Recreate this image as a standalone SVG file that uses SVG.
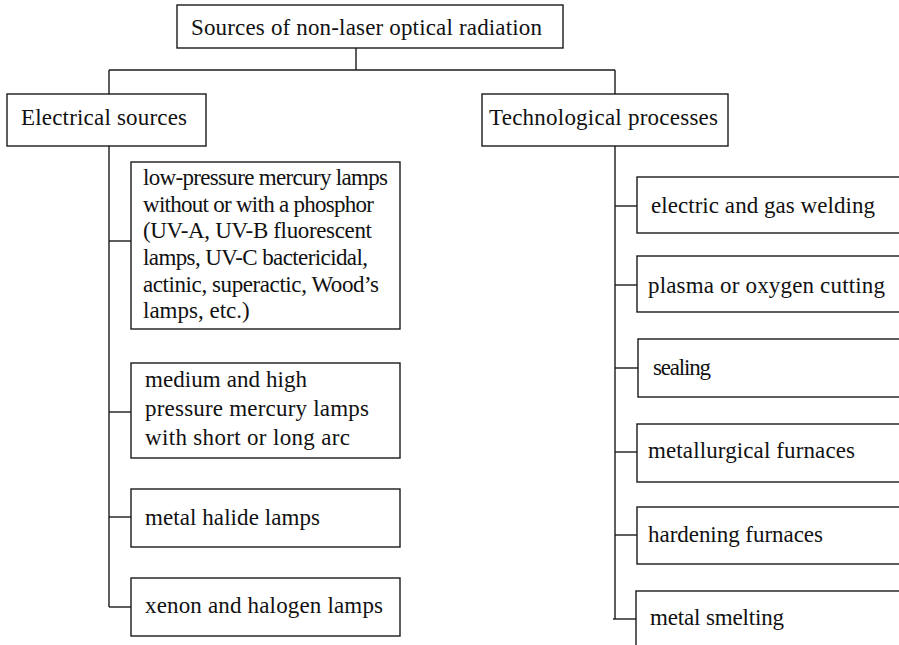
<svg xmlns="http://www.w3.org/2000/svg" width="899" height="645" viewBox="0 0 899 645">
<style>
rect{fill:#fff;stroke:#1a1a1a;stroke-width:1.4}
text{font-family:"Liberation Serif","Times New Roman",serif;font-size:23px;fill:#111}
#connectors line{stroke:#1a1a1a;stroke-width:1.4}
</style>
<rect x="0" y="0" width="899" height="645" style="stroke:none;fill:#fff"/>
<g id="connectors">
<line x1="356" y1="48" x2="356" y2="70"/>
<line x1="109" y1="70" x2="615" y2="70"/>
<line x1="109" y1="70" x2="109" y2="94"/>
<line x1="615" y1="70" x2="615" y2="94"/>
<line x1="109" y1="146" x2="109" y2="607"/>
<line x1="109" y1="241" x2="131" y2="241"/>
<line x1="109" y1="412" x2="131" y2="412"/>
<line x1="109" y1="517" x2="131" y2="517"/>
<line x1="109" y1="607" x2="131" y2="607"/>
<line x1="615" y1="146" x2="615" y2="619"/>
<line x1="615" y1="206" x2="637" y2="206"/>
<line x1="615" y1="285" x2="637" y2="285"/>
<line x1="615" y1="368" x2="638" y2="368"/>
<line x1="615" y1="452" x2="637" y2="452"/>
<line x1="615" y1="535" x2="637" y2="535"/>
<line x1="613" y1="619" x2="636" y2="619"/>
</g>
<g id="root"><rect x="177" y="5" width="386" height="43"/><text x="191" y="35" textLength="351" lengthAdjust="spacing">Sources of non-laser optical radiation</text></g>
<g id="electrical"><rect x="7" y="94" width="199" height="52"/><text x="21" y="125" textLength="166" lengthAdjust="spacing">Electrical sources</text></g>
<g id="technological"><rect x="482" y="94" width="246" height="52"/><text x="489" y="125" textLength="229" lengthAdjust="spacing">Technological processes</text></g>
<g id="lowpressure"><rect x="131" y="162" width="269" height="167"/>
<text x="143" y="185" textLength="245" lengthAdjust="spacing">low-pressure mercury lamps</text>
<text x="143" y="211.7" textLength="231" lengthAdjust="spacing">without or with a phosphor</text>
<text x="143" y="238.3" textLength="229" lengthAdjust="spacing">(UV-A, UV-B fluorescent</text>
<text x="143" y="265" textLength="225" lengthAdjust="spacing">lamps, UV-C bactericidal,</text>
<text x="143" y="291.7" textLength="236" lengthAdjust="spacing">actinic, superactic, Wood’s</text>
<text x="143" y="318.3">lamps, etc.)</text></g>
<g id="mediumhigh"><rect x="131" y="363" width="269" height="95"/>
<text x="145" y="387" textLength="162" lengthAdjust="spacing">medium and high</text>
<text x="145" y="416" textLength="224" lengthAdjust="spacing">pressure mercury lamps</text>
<text x="145" y="445" textLength="205" lengthAdjust="spacing">with short or long arc</text></g>
<g id="metalhalide"><rect x="131" y="489" width="269" height="58"/><text x="145" y="525" textLength="175" lengthAdjust="spacing">metal halide lamps</text></g>
<g id="xenon"><rect x="131" y="578" width="269" height="58"/><text x="145" y="613" textLength="238" lengthAdjust="spacing">xenon and halogen lamps</text></g>
<g id="welding"><rect x="637" y="177" width="280" height="56"/><text x="651" y="213" textLength="224" lengthAdjust="spacing">electric and gas welding</text></g>
<g id="cutting"><rect x="637" y="256" width="280" height="56"/><text x="648" y="293" textLength="237" lengthAdjust="spacing">plasma or oxygen cutting</text></g>
<g id="sealing"><rect x="638" y="339" width="280" height="58"/><text x="653" y="375" textLength="58" lengthAdjust="spacing">sealing</text></g>
<g id="metallurgical"><rect x="637" y="424" width="280" height="58"/><text x="648" y="458" textLength="207" lengthAdjust="spacing">metallurgical furnaces</text></g>
<g id="hardening"><rect x="637" y="507" width="280" height="57"/><text x="648" y="542" textLength="175" lengthAdjust="spacing">hardening furnaces</text></g>
<g id="smelting"><rect x="636" y="591" width="280" height="70"/><text x="650" y="625" textLength="134" lengthAdjust="spacing">metal smelting</text></g>
</svg>
